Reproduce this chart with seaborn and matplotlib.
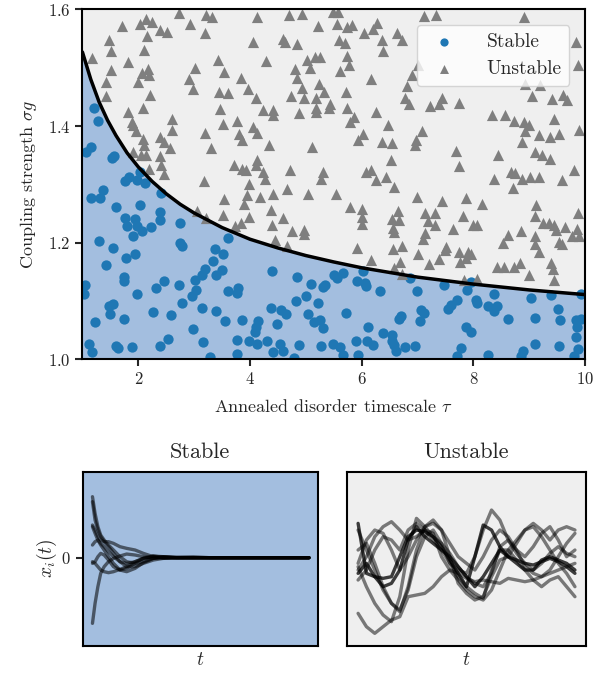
import numpy as np
import pandas as pd
import matplotlib
matplotlib.use("Agg")
import matplotlib.pyplot as plt
import seaborn as sns

# stability boundary
curve_tau = [1.0, 1.15, 1.3, 1.45, 1.6, 1.8, 2.0, 2.25, 2.5, 2.75, 3.0, 3.5, 4.0, 4.5,
             5.0, 5.5, 6.0, 6.5, 7.0, 7.5, 8.0, 8.5, 9.0, 9.5, 10.0]
curve_sigma = [1.527, 1.480, 1.441, 1.410, 1.384, 1.354, 1.330, 1.305, 1.284, 1.266, 1.251,
               1.226, 1.206, 1.191, 1.178, 1.167, 1.157, 1.149, 1.141, 1.135, 1.129, 1.124,
               1.119, 1.115, 1.111]

stable_tau = [
    1.21, 1.27, 1.15, 1.06, 1.57, 1.53, 2.03, 1.84, 1.76, 1.97, 2.12,
    1.15, 1.31, 1.37, 1.61, 2.03, 2.40, 2.39, 2.39, 1.76, 1.94, 1.79, 1.97, 2.06, 1.90, 2.22,
    2.75, 2.74, 2.78, 1.30, 1.55, 1.78, 1.94, 1.43, 3.38, 3.51, 3.34, 3.20, 3.14, 3.02, 3.50,
    3.39, 3.61, 1.75, 1.75, 1.05, 1.03, 2.31, 2.46, 2.73, 1.97, 3.04, 2.96, 3.60, 3.79, 3.76,
    1.54, 1.48, 1.49, 2.79, 2.27, 2.58, 3.14, 3.40, 1.23, 1.75, 3.56, 3.85, 2.98, 1.11, 1.17,
    1.61, 1.64, 1.88, 2.39, 2.54, 3.16, 3.76, 3.99, 3.28, 3.76,
    4.39, 4.84, 5.10, 5.30, 5.34, 5.50, 5.56, 5.66, 5.92, 6.06, 6.08, 6.02, 6.32, 6.87, 6.99,
    5.00, 4.82, 5.21, 4.37, 4.55, 4.64, 5.04, 5.72, 6.70, 6.67, 4.15, 4.11, 4.09, 4.48, 5.15,
    5.25, 5.30, 6.12, 6.39, 6.54, 6.54, 6.58, 6.61, 4.12, 4.30, 4.53, 4.60, 4.41, 4.88, 5.27,
    5.49, 5.61, 5.66, 5.90, 6.09, 6.20, 5.94, 6.78, 6.96, 4.78,
    7.47, 7.96, 7.89, 8.37, 9.04, 9.39, 9.93, 7.71, 7.60, 7.54, 8.05, 8.07, 8.27, 8.43, 8.37,
    7.07, 7.11, 7.05, 8.63, 9.11, 9.51, 9.56, 9.84, 9.92, 9.86, 9.84, 7.87, 7.96, 7.78, 7.71,
    8.26, 8.89, 8.85, 9.11, 9.54, 9.87, 9.81,
]
stable_sigma = [
    1.431, 1.408, 1.365, 1.356, 1.349, 1.345, 1.322, 1.312, 1.305, 1.307, 1.303,
    1.277, 1.277, 1.290, 1.262, 1.264, 1.285, 1.252, 1.239, 1.243, 1.241, 1.228, 1.228, 1.220,
    1.212, 1.227, 1.234, 1.199, 1.194, 1.203, 1.191, 1.174, 1.181, 1.161, 1.190, 1.181, 1.168,
    1.155, 1.144, 1.136, 1.153, 1.145, 1.208, 1.141, 1.135, 1.128, 1.112, 1.123, 1.135, 1.128,
    1.112, 1.119, 1.108, 1.118, 1.123, 1.113, 1.095, 1.091, 1.078, 1.096, 1.081, 1.076, 1.088,
    1.083, 1.064, 1.069, 1.065, 1.068, 1.052, 1.027, 1.012, 1.022, 1.020, 1.021, 1.022, 1.035,
    1.029, 1.033, 1.032, 1.004, 1.009,
    1.151, 1.141, 1.129, 1.124, 1.128, 1.145, 1.140, 1.148, 1.135, 1.131, 1.125, 1.152, 1.117,
    1.140, 1.117, 1.109, 1.100, 1.096, 1.088, 1.085, 1.077, 1.078, 1.079, 1.075, 1.069, 1.065,
    1.056, 1.047, 1.061, 1.064, 1.067, 1.054, 1.055, 1.045, 1.041, 1.032, 1.024, 1.015, 1.027,
    1.032, 1.027, 1.014, 1.012, 1.025, 1.022, 1.027, 1.021, 1.008, 1.032, 1.031, 1.024, 1.008,
    1.021, 1.022, 1.003,
    1.127, 1.132, 1.119, 1.112, 1.105, 1.111, 1.112, 1.101, 1.094, 1.087, 1.101, 1.096, 1.091,
    1.092, 1.083, 1.085, 1.079, 1.065, 1.069, 1.071, 1.087, 1.068, 1.068, 1.069, 1.056, 1.039,
    1.055, 1.047, 1.020, 1.005, 1.008, 1.014, 1.005, 1.027, 1.022, 1.018, 1.005,
]

unstable_tau = [
    1.70, 2.03, 2.13, 2.24, 2.39, 2.52, 2.73, 2.92, 3.20, 3.21, 3.32, 1.48, 2.16, 1.51, 2.11,
    1.17, 1.81, 1.51, 2.07, 2.18, 2.19, 1.99, 1.42, 3.02, 3.43, 3.54, 2.91, 2.98, 3.45, 3.60,
    3.84, 3.96, 1.43, 2.21, 2.09, 1.82, 1.88, 1.91, 2.60, 2.61, 3.46, 3.51, 3.76, 1.96, 3.20,
    3.81, 3.85, 2.39, 2.46, 2.56, 2.09, 2.10, 2.04, 2.13, 2.39, 2.40, 2.46, 1.90, 3.30, 3.72,
    3.85, 3.93, 3.18, 2.19,
    4.13, 4.70, 4.93, 5.48, 5.58, 5.21, 5.56, 5.73, 5.82, 6.28, 6.20, 6.04, 6.63, 6.73, 6.36,
    6.38, 4.60, 4.63, 4.85, 4.06, 5.60, 5.70, 5.73, 4.29, 5.03, 5.16, 5.25, 5.07, 4.81, 5.78,
    5.61, 4.84, 6.16, 6.90, 7.01, 6.81, 6.78, 6.84, 4.11, 4.94, 5.24, 5.33, 4.73, 4.96, 5.18,
    5.72, 5.44, 5.42, 5.19, 5.19, 5.73, 4.23, 4.41, 4.41, 4.87, 5.86, 5.79, 6.26, 6.48, 4.06,
    4.12, 6.02, 5.94, 6.36, 6.54, 6.97, 6.96, 4.35, 5.12, 4.13, 4.11, 4.24, 4.27, 4.72, 5.31,
    5.27, 6.16, 6.08, 6.26, 6.44, 6.52,
    7.11, 7.34, 8.90, 9.88, 9.84, 8.92, 9.20, 9.05, 9.41, 9.60, 9.68, 7.44, 7.38, 7.23, 7.75,
    8.33, 8.57, 8.73, 8.91, 8.99, 9.45, 8.93, 9.17, 9.37, 9.54, 9.90, 8.87, 7.08, 7.69, 8.44,
    9.11, 9.23, 9.38, 7.75, 8.67, 8.74, 9.02, 9.17, 8.37, 8.87, 9.81, 9.59,
    3.54, 3.94, 3.90, 3.51, 3.22, 3.06, 3.84, 3.73, 3.99, 3.99,
    4.66, 5.04, 5.54, 4.18, 4.42, 6.58, 6.99, 5.80, 6.00, 4.37, 4.59, 6.00, 6.00, 6.54, 6.67,
    6.66, 6.57, 6.58, 4.39, 4.76, 4.96, 4.97, 4.45, 4.67, 5.91, 6.73, 6.57, 6.16, 6.69, 6.58,
    6.73,
    8.71, 7.44, 7.87, 8.15, 7.13, 7.31, 7.19, 7.31, 7.81, 7.63, 7.99, 8.07, 7.14, 7.10, 9.13,
    9.11, 9.25, 9.35, 9.44, 9.48, 9.65, 9.87, 9.86, 9.76, 9.90, 9.11, 8.63, 8.86, 8.53, 9.10,
    9.17, 9.54, 9.59, 7.51, 7.50, 7.38, 7.75, 7.90, 7.95, 7.87, 7.77, 7.01, 7.20, 8.43, 8.55,
    8.73, 8.83, 9.39, 9.42, 8.99, 9.44, 8.07, 7.83,
]
unstable_sigma = [
    1.571, 1.575, 1.584, 1.579, 1.564, 1.562, 1.594, 1.575, 1.560, 1.591, 1.587, 1.547, 1.555,
    1.528, 1.530, 1.516, 1.510, 1.496, 1.491, 1.498, 1.488, 1.476, 1.475, 1.499, 1.514, 1.492,
    1.481, 1.464, 1.458, 1.457, 1.482, 1.464, 1.451, 1.453, 1.431, 1.424, 1.407, 1.402, 1.412,
    1.394, 1.429, 1.404, 1.409, 1.391, 1.388, 1.387, 1.377, 1.381, 1.372, 1.362, 1.378, 1.367,
    1.351, 1.351, 1.349, 1.333, 1.318, 1.355, 1.362, 1.333, 1.327, 1.325, 1.305, 1.327,
    1.587, 1.591, 1.592, 1.595, 1.595, 1.571, 1.575, 1.570, 1.574, 1.577, 1.567, 1.560, 1.560,
    1.548, 1.547, 1.528, 1.550, 1.545, 1.541, 1.544, 1.547, 1.543, 1.520, 1.512, 1.514, 1.518,
    1.518, 1.499, 1.498, 1.504, 1.494, 1.482, 1.481, 1.488, 1.504, 1.469, 1.449, 1.438, 1.449,
    1.465, 1.472, 1.459, 1.452, 1.449, 1.448, 1.458, 1.438, 1.431, 1.431, 1.424, 1.431, 1.427,
    1.427, 1.419, 1.423, 1.415, 1.407, 1.424, 1.402, 1.398, 1.389, 1.387, 1.377, 1.373, 1.371,
    1.377, 1.367, 1.367, 1.365, 1.341, 1.333, 1.322, 1.309, 1.325, 1.322, 1.309, 1.325, 1.321,
    1.307, 1.312, 1.341,
    1.588, 1.590, 1.587, 1.505, 1.544, 1.472, 1.471, 1.452, 1.447, 1.454, 1.445, 1.448, 1.438,
    1.434, 1.440, 1.419, 1.419, 1.408, 1.407, 1.402, 1.412, 1.391, 1.384, 1.381, 1.387, 1.394,
    1.373, 1.392, 1.358, 1.351, 1.356, 1.351, 1.343, 1.332, 1.322, 1.320, 1.312, 1.312, 1.309,
    1.309, 1.325, 1.307,
    1.275, 1.281, 1.266, 1.247, 1.243, 1.254, 1.234, 1.228, 1.244, 1.301,
    1.292, 1.283, 1.284, 1.278, 1.283, 1.295, 1.279, 1.262, 1.258, 1.256, 1.243, 1.244, 1.232,
    1.241, 1.239, 1.255, 1.226, 1.218, 1.231, 1.220, 1.215, 1.221, 1.205, 1.194, 1.191, 1.194,
    1.190, 1.171, 1.167, 1.157, 1.146,
    1.294, 1.272, 1.277, 1.267, 1.251, 1.251, 1.237, 1.230, 1.245, 1.224, 1.231, 1.231, 1.216,
    1.207, 1.264, 1.245, 1.234, 1.234, 1.231, 1.221, 1.227, 1.251, 1.224, 1.212, 1.211, 1.212,
    1.214, 1.220, 1.199, 1.197, 1.184, 1.201, 1.198, 1.192, 1.187, 1.172, 1.184, 1.184, 1.181,
    1.174, 1.167, 1.181, 1.163, 1.159, 1.158, 1.158, 1.165, 1.165, 1.155, 1.144, 1.136, 1.138,
    1.136,
]

# example trajectories x_i(t), arbitrary units
t_stable = [0.0, 0.012, 0.025, 0.038, 0.054, 0.074, 0.097, 0.127, 0.158, 0.197, 0.235,
            0.281, 0.327, 0.389, 0.465, 0.542, 0.619, 0.696, 0.772, 0.849, 0.926, 1.0]
traj_stable = [
    [1.83, 1.33, 0.93, 0.68, 0.53, 0.38, 0.23, 0.03, -0.12, -0.17, -0.12, -0.02, 0.03, 0.00, 0.01, 0, 0, 0, 0, 0, 0, 0],
    [1.68, 1.13, 0.83, 0.63, 0.48, 0.33, 0.13, -0.12, -0.27, -0.27, -0.17, -0.07, -0.02, 0.01, 0.02, 0, 0, 0, 0, 0, 0, 0],
    [0.98, 0.83, 0.63, 0.53, 0.48, 0.48, 0.43, 0.33, 0.28, 0.23, 0.13, 0.03, -0.02, -0.01, 0, 0, 0, 0, 0, 0, 0, 0],
    [0.38, 0.48, 0.53, 0.43, 0.33, 0.18, 0.03, -0.12, -0.17, -0.12, -0.02, 0.05, 0.03, 0, -0.01, 0, 0, 0, 0, 0, 0, 0],
    [-0.17, -0.12, 0.03, 0.13, 0.08, -0.07, -0.27, -0.37, -0.32, -0.17, -0.02, 0.05, 0.01, 0, 0, 0, 0, 0, 0, 0, 0, 0],
    [-1.97, -1.37, -0.87, -0.47, -0.27, -0.12, -0.02, 0.05, 0.11, 0.08, 0.03, -0.02, 0, 0, 0, 0, 0, 0, 0, 0, 0, 0],
    [-0.12, -0.17, -0.27, -0.37, -0.42, -0.45, -0.42, -0.35, -0.27, -0.12, -0.02, 0.03, 0, 0, 0, 0, 0, 0, 0, 0, 0, 0],
    [0.93, 0.73, 0.53, 0.38, 0.23, 0.03, -0.17, -0.37, -0.42, -0.32, -0.15, -0.02, 0.03, 0.01, 0, 0, 0, 0, 0, 0, 0, 0],
]

t_unstable = [k / 26 for k in range(27)]
traj_unstable = [
    [1.03, -0.47, -0.57, -0.62, -0.57, 0.03, 0.63, 0.83, 0.78, 0.63, 0.33, -0.07, -0.47, -0.87, 0.03, 0.98, 0.83, 0.33, 0.03, -0.07, -0.17, -0.22, -0.12, -0.02, -0.12, -0.27, -0.47],
    [-0.27, -0.87, -1.37, -1.72, -1.92, -1.17, 0.23, 1.18, 0.93, 0.63, 0.43, 0.13, -0.27, -0.57, -0.77, -0.87, -0.47, 0.33, 0.53, 0.23, -0.27, -0.47, -0.57, -0.37, 0.03, 0.43, 0.73],
    [-1.67, -2.07, -2.27, -2.07, -1.87, -1.77, -1.17, -1.12, -1.07, -0.87, -0.57, -0.37, -0.47, -0.62, -0.72, -0.67, -0.72, -0.77, -0.62, -0.67, -0.72, -0.67, -0.57, -0.47, -0.37, -0.27, -0.17],
    [-0.37, 0.03, 0.63, 0.93, 1.08, 0.83, 0.53, 0.63, 0.83, 0.73, 0.03, -0.37, -0.67, -0.97, -1.17, -1.27, -0.97, -0.37, 0.23, 0.53, 0.83, 0.93, 0.63, 0.23, -0.17, -0.47, -0.87],
    [-0.67, -0.37, 0.23, 0.63, 0.53, 0.23, 0.83, 1.03, 0.83, 0.53, 0.23, -0.17, -0.37, -0.47, 0.03, 0.83, 1.43, 1.13, 0.53, 0.13, -0.17, -0.37, -0.17, 0.13, 0.33, 0.13, 0.03],
    [0.83, 0.23, -0.37, -0.97, -1.37, -1.62, -0.87, 0.23, 0.93, 1.13, 0.83, 0.03, -0.77, -1.07, -1.27, -1.17, -0.57, -0.07, 0.03, 0.43, 0.83, 1.03, 0.83, 0.53, 0.83, 0.93, 0.83],
    [0.23, 0.43, -0.17, -0.87, -1.37, -1.57, -0.97, 0.03, 0.63, 0.83, 0.43, -0.17, -0.57, -0.87, -1.07, -1.22, -0.37, 0.23, 0.23, -0.07, -0.37, -0.67, -0.87, -0.67, -0.57, -0.87, -1.17],
    [-0.17, 0.53, 0.83, 0.73, 0.23, -0.37, 0.03, 0.53, 0.93, 1.03, 0.83, 0.43, 0.03, -0.17, -0.37, 0.03, 0.53, 0.83, 0.63, 0.23, 0.03, 0.33, 0.73, 0.93, 0.53, 0.03, 0.23],
    [-0.47, -0.17, -0.57, -0.87, -0.77, -0.37, 0.53, 0.93, 0.63, 0.43, 0.23, 0.03, -0.27, -0.57, -0.87, -0.57, -0.17, 0.23, 0.03, -0.17, -0.37, -0.37, -0.07, 0.03, -0.07, -0.17, -0.37],
]
dark_unstable = [0, 8]

blue = "#1f77b4"
gray = "#7f7f7f"
blue_fill = "#a3bedf"
gray_fill = "#efefef"

sns.set_style("ticks")
plt.rcParams["font.family"] = ["cmr10", "DejaVu Serif"]
plt.rcParams["mathtext.fontset"] = "cm"
plt.rcParams["axes.formatter.use_mathtext"] = True
plt.rcParams["axes.unicode_minus"] = False
plt.rcParams["axes.linewidth"] = 1.5
plt.rcParams["xtick.major.width"] = 1.5
plt.rcParams["ytick.major.width"] = 1.5
plt.rcParams["xtick.major.size"] = 5
plt.rcParams["ytick.major.size"] = 5
plt.rcParams["axes.edgecolor"] = "black"

fig = plt.figure(figsize=(5.93, 6.73), dpi=100)
ax = fig.add_axes([0.139, 0.4661, 0.8475, 0.5198])
ax_s = fig.add_axes([0.1395, 0.0406, 0.3968, 0.2585])
ax_u = fig.add_axes([0.5852, 0.0406, 0.4030, 0.2585])

# phase diagram
ax.set_facecolor(gray_fill)
ax.fill_between(curve_tau, curve_sigma, 1.0, color=blue_fill, lw=0, zorder=0)
ax.fill_between(curve_tau, curve_sigma, 1.6, color=gray_fill, lw=0, zorder=0)

df_s = pd.DataFrame({"tau": stable_tau, "sigma": stable_sigma})
df_u = pd.DataFrame({"tau": unstable_tau, "sigma": unstable_sigma})
sns.scatterplot(data=df_s, x="tau", y="sigma", ax=ax, color=blue, marker="o",
                s=55, linewidth=0, label="Stable", zorder=2)
sns.scatterplot(data=df_u, x="tau", y="sigma", ax=ax, color=gray, marker="^",
                s=65, linewidth=0, label="Unstable", zorder=2)
sns.lineplot(x=curve_tau, y=curve_sigma, ax=ax, color="black", lw=2.5, zorder=3)

ax.set_xlim(1, 10)
ax.set_ylim(1.0, 1.6)
ax.set_xticks([2, 4, 6, 8, 10])
ax.set_yticks([1.0, 1.2, 1.4, 1.6])
ax.set_xlabel(r"Annealed disorder timescale $\tau$", fontsize=13, labelpad=8)
ax.set_ylabel(r"Coupling strength $\sigma g$", fontsize=13, labelpad=6)
ax.tick_params(labelsize=12)
ax.legend(loc="upper right", fontsize=14, frameon=True, borderaxespad=0.8,
          handletextpad=1.2, markerscale=0.8)

# example dynamics
ax_s.set_facecolor(blue_fill)
for y in traj_stable:
    sns.lineplot(x=t_stable, y=y, ax=ax_s, color="black", alpha=0.55, lw=2.4)
ax_s.set_xlim(-0.045, 1.042)
ax_s.set_ylim(-2.64, 2.58)
ax_s.set_xticks([])
ax_s.set_yticks([0])
ax_s.tick_params(labelsize=12)
ax_s.set_xlabel(r"$t$", fontsize=14)
ax_s.set_ylabel(r"$x_i(t)$", fontsize=14, labelpad=2)
ax_s.set_title("Stable", fontsize=16, pad=10)

ax_u.set_facecolor(gray_fill)
for i, y in enumerate(traj_unstable):
    a = 0.75 if i in dark_unstable else 0.5
    sns.lineplot(x=t_unstable, y=y, ax=ax_u, color="black", alpha=a, lw=2.4)
ax_u.set_xlim(-0.051, 1.051)
ax_u.set_ylim(-2.64, 2.58)
ax_u.set_xticks([])
ax_u.set_yticks([])
ax_u.set_xlabel(r"$t$", fontsize=14)
ax_u.set_title("Unstable", fontsize=16, pad=10)

for a in (ax, ax_s, ax_u):
    for sp in a.spines.values():
        sp.set_visible(True)
        sp.set_linewidth(1.5)

fig.savefig("out.png", dpi=100)
